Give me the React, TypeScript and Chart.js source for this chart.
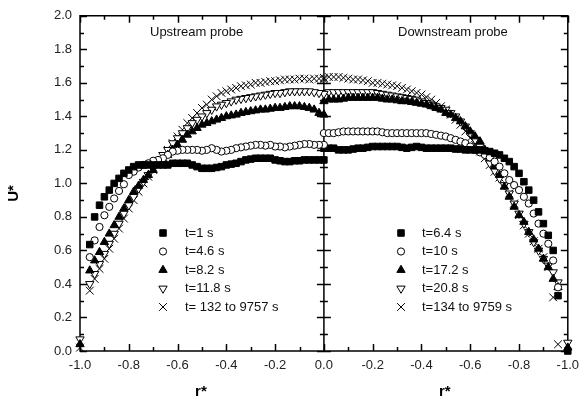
import React, { useEffect, useRef } from 'react';
import { Chart, registerables } from 'chart.js';
import { drawPoint } from 'chart.js/helpers';

Chart.register(...registerables);

// |r*| grid of the measurement points (0 .. 0.96)
const R = [0.00, 0.02, 0.04, 0.06, 0.08, 0.10, 0.12, 0.14, 0.16, 0.18,
  0.20, 0.22, 0.24, 0.26, 0.28, 0.30, 0.32, 0.34, 0.36, 0.38,
  0.40, 0.42, 0.44, 0.46, 0.48, 0.50, 0.52, 0.54, 0.56, 0.58,
  0.60, 0.62, 0.64, 0.66, 0.68, 0.70, 0.72, 0.74, 0.76, 0.78,
  0.80, 0.82, 0.84, 0.86, 0.88, 0.90, 0.92, 0.94, 0.96];
const R_WALL = 1.0;

// Upstream probe (left half)
const UP_LABELS = ['t=1 s', 't=4.6 s', 't=8.2 s', 't=11.8 s', 't= 132 to 9757 s'];
const UP_T1 = [1.14, 1.14, 1.14, 1.14, 1.14, 1.135, 1.135, 1.13, 1.13, 1.135,
  1.14, 1.15, 1.15, 1.15, 1.15, 1.145, 1.14, 1.13, 1.12, 1.115,
  1.11, 1.10, 1.095, 1.09, 1.09, 1.09, 1.10, 1.11, 1.12, 1.12,
  1.12, 1.12, 1.11, 1.11, 1.11, 1.11, 1.11, 1.11, 1.11, 1.10,
  1.08, 1.06, 1.03, 1.00, 0.96, 0.92, 0.87, 0.80, 0.635];
const UP_T2 = [1.23, 1.23, 1.23, 1.235, 1.235, 1.23, 1.225, 1.22, 1.215, 1.22,
  1.22, 1.23, 1.225, 1.23, 1.23, 1.225, 1.22, 1.215, 1.21, 1.20,
  1.195, 1.19, 1.20, 1.21, 1.20, 1.195, 1.20, 1.20, 1.20, 1.20,
  1.195, 1.19, 1.17, 1.15, 1.14, 1.135, 1.12, 1.11, 1.095, 1.07,
  1.05, 0.995, 0.955, 0.91, 0.86, 0.81, 0.74, 0.66, 0.56];
const UP_T3 = [1.41, 1.42, 1.44, 1.45, 1.455, 1.46, 1.46, 1.46, 1.455, 1.45,
  1.45, 1.445, 1.44, 1.44, 1.435, 1.43, 1.425, 1.42, 1.41, 1.405,
  1.40, 1.39, 1.38, 1.37, 1.36, 1.35, 1.33, 1.31, 1.29, 1.26,
  1.23, 1.20, 1.17, 1.14, 1.11, 1.08, 1.05, 1.02, 0.985, 0.95,
  0.90, 0.85, 0.80, 0.75, 0.70, 0.65, 0.59, 0.54, 0.48];
const UP_T4 = [1.535, 1.54, 1.545, 1.55, 1.55, 1.55, 1.55, 1.55, 1.545, 1.54,
  1.54, 1.535, 1.53, 1.525, 1.52, 1.515, 1.51, 1.505, 1.50, 1.49,
  1.48, 1.47, 1.46, 1.44, 1.42, 1.40, 1.38, 1.36, 1.33, 1.30,
  1.27, 1.24, 1.20, 1.17, 1.13, 1.09, 1.05, 1.01, 0.97, 0.92,
  0.87, 0.82, 0.76, 0.70, 0.64, 0.58, 0.52, 0.46, 0.40];
const UP_T5 = [1.62, 1.625, 1.625, 1.62, 1.625, 1.625, 1.62, 1.62, 1.62, 1.615,
  1.61, 1.61, 1.605, 1.60, 1.60, 1.59, 1.585, 1.58, 1.57, 1.56,
  1.55, 1.54, 1.52, 1.50, 1.47, 1.45, 1.42, 1.39, 1.36, 1.32,
  1.28, 1.24, 1.20, 1.16, 1.12, 1.08, 1.04, 1.00, 0.95, 0.90,
  0.85, 0.79, 0.73, 0.67, 0.61, 0.55, 0.49, 0.43, 0.36];
const UP_WALL = [null, null, 0.04, 0.07, 0.02];

// Downstream probe (right half)
const DOWN_LABELS = ['t=6.4 s', 't=10 s', 't=17.2 s', 't=20.8 s', 't=134 to 9759 s'];
const DOWN_T1 = [1.21, 1.21, 1.21, 1.20, 1.20, 1.20, 1.205, 1.21, 1.21, 1.215,
  1.22, 1.22, 1.22, 1.22, 1.22, 1.22, 1.215, 1.21, 1.215, 1.22,
  1.215, 1.21, 1.21, 1.21, 1.21, 1.21, 1.21, 1.205, 1.205, 1.20,
  1.20, 1.20, 1.20, 1.195, 1.19, 1.18, 1.17, 1.15, 1.13, 1.10,
  1.06, 1.01, 0.96, 0.90, 0.83, 0.76, 0.69, 0.60, 0.33];
const DOWN_T2 = [1.30, 1.30, 1.30, 1.305, 1.31, 1.31, 1.31, 1.31, 1.31, 1.31,
  1.31, 1.31, 1.305, 1.30, 1.30, 1.30, 1.30, 1.30, 1.30, 1.30,
  1.30, 1.30, 1.295, 1.29, 1.285, 1.28, 1.27, 1.26, 1.25, 1.24,
  1.22, 1.20, 1.185, 1.17, 1.155, 1.13, 1.10, 1.06, 1.02, 0.99,
  0.96, 0.92, 0.88, 0.82, 0.76, 0.70, 0.64, 0.54, 0.38];
const DOWN_T3 = [1.49, 1.50, 1.50, 1.50, 1.505, 1.51, 1.51, 1.51, 1.51, 1.51,
  1.51, 1.51, 1.505, 1.50, 1.50, 1.495, 1.49, 1.49, 1.485, 1.48,
  1.475, 1.47, 1.46, 1.45, 1.44, 1.42, 1.41, 1.39, 1.37, 1.34,
  1.31, 1.28, 1.25, 1.20, 1.15, 1.10, 1.05, 0.98, 0.92, 0.86,
  0.81, 0.77, 0.71, 0.665, 0.61, 0.55, 0.50, 0.43, 0.38];
const DOWN_T4 = [1.54, 1.545, 1.545, 1.545, 1.545, 1.545, 1.545, 1.545, 1.545, 1.545,
  1.545, 1.54, 1.535, 1.53, 1.525, 1.52, 1.515, 1.51, 1.505, 1.50,
  1.49, 1.48, 1.47, 1.46, 1.45, 1.44, 1.42, 1.40, 1.37, 1.34,
  1.30, 1.26, 1.22, 1.17, 1.12, 1.075, 1.03, 0.99, 0.94, 0.88,
  0.82, 0.76, 0.71, 0.65, 0.60, 0.55, 0.51, 0.47, 0.41];
const DOWN_T5 = [1.63, 1.635, 1.635, 1.635, 1.63, 1.625, 1.62, 1.62, 1.615, 1.61,
  1.60, 1.60, 1.595, 1.59, 1.585, 1.58, 1.57, 1.56, 1.55, 1.54,
  1.53, 1.515, 1.50, 1.48, 1.46, 1.44, 1.41, 1.38, 1.35, 1.31,
  1.27, 1.23, 1.19, 1.15, 1.11, 1.07, 1.035, 0.99, 0.94, 0.88,
  0.81, 0.75, 0.70, 0.655, 0.61, 0.56, 0.50, 0.32, 0.04];
const DOWN_WALL = [0.00, null, 0.02, 0.05, null];

const X_TICKS_STEP = 0.2;
const Y_TICKS_STEP = 0.2;

const FONT = '"Liberation Sans", Arial, Helvetica, sans-serif';

const STYLES: any[] = [
  { pointStyle: 'rect', pointRadius: 4.6, pointBackgroundColor: '#000', pointBorderColor: '#000', pointBorderWidth: 1, pointRotation: 0 },
  { pointStyle: 'circle', pointRadius: 3.6, pointBackgroundColor: '#fff', pointBorderColor: '#000', pointBorderWidth: 1, pointRotation: 0 },
  { pointStyle: 'triangle', pointRadius: 4.8, pointBackgroundColor: '#000', pointBorderColor: '#000', pointBorderWidth: 1, pointRotation: 0 },
  { pointStyle: 'triangle', pointRadius: 4.8, pointBackgroundColor: '#fff', pointBorderColor: '#000', pointBorderWidth: 1, pointRotation: 180 },
  { pointStyle: 'crossRot', pointRadius: 5.5, pointBackgroundColor: '#000', pointBorderColor: '#000', pointBorderWidth: 1, pointRotation: 0 },
];

function makeSet(label: string, U: number[], wall: number | null, side: number, style: any, group: string) {
  const data = R.map((r, i) => ({ x: side * r, y: U[i] }));
  if (wall !== null && wall !== undefined) data.push({ x: side * R_WALL, y: wall });
  return { label, data, group, showLine: false, clip: false, ...style };
}

const framePlugin = {
  id: 'frameTicks',
  beforeDatasetsDraw(chart: any) {
    const { ctx, chartArea } = chart;
    const { left, right, top, bottom } = chartArea;
    const xs = chart.scales.x;
    const ys = chart.scales.y;
    const cx = xs.getPixelForValue(0);
    ctx.save();
    ctx.strokeStyle = '#000';
    ctx.lineWidth = 1.5;
    ctx.lineCap = 'butt';
    ctx.beginPath();
    ctx.rect(left, top, right - left, bottom - top);
    ctx.moveTo(cx, top);
    ctx.lineTo(cx, bottom);
    // x ticks (every 0.1, major every 0.2), inward on top and bottom
    for (let k = -10; k <= 10; k++) {
      const px = Math.round(xs.getPixelForValue(k / 10)) + 0.5;
      const len = k % 2 === 0 ? 7 : 4;
      ctx.moveTo(px, bottom);
      ctx.lineTo(px, bottom - len);
      ctx.moveTo(px, top);
      ctx.lineTo(px, top + len);
    }
    // y ticks
    for (let k = 0; k <= 20; k++) {
      const py = Math.round(ys.getPixelForValue(k / 10)) + 0.5;
      const len = k % 2 === 0 ? 7 : 4;
      ctx.moveTo(left, py);
      ctx.lineTo(left + len, py);
      ctx.moveTo(right, py);
      ctx.lineTo(right - len, py);
      ctx.moveTo(cx - len, py);
      ctx.lineTo(cx + len, py);
    }
    ctx.stroke();
    ctx.restore();
  },
  afterDatasetsDraw(chart: any) {
    const { ctx } = chart;
    const xs = chart.scales.x;
    const ys = chart.scales.y;
    ctx.save();
    ctx.fillStyle = '#111';
    ctx.font = `13px ${FONT}`;
    ctx.textBaseline = 'middle';
    ctx.textAlign = 'left';
    ctx.fillText('Upstream probe', 150, 32);
    ctx.fillText('Downstream probe', 398, 32);

    // legends
    const rows = [233, 251.5, 270, 288.5, 307];
    const groups = [
      { from: 0, mx: 163, tx: 185 },
      { from: 5, mx: 401, tx: 422 },
    ];
    groups.forEach((g) => {
      for (let i = 0; i < 5; i++) {
        const ds = chart.data.datasets[g.from + i];
        const y = rows[i];
        ctx.fillStyle = ds.pointBackgroundColor;
        ctx.strokeStyle = ds.pointBorderColor;
        ctx.lineWidth = ds.pointBorderWidth;
        drawPoint(ctx, {
          pointStyle: ds.pointStyle,
          rotation: ds.pointRotation,
          radius: ds.pointRadius,
          borderWidth: ds.pointBorderWidth,
        } as any, g.mx, y);
        ctx.fillStyle = '#111';
        ctx.font = `13px ${FONT}`;
        ctx.textBaseline = 'middle';
        ctx.textAlign = 'left';
        ctx.fillText(ds.label, g.tx, y);
      }
    });

    // axis titles
    ctx.fillStyle = '#000';
    ctx.font = `bold 15px ${FONT}`;
    ctx.textAlign = 'center';
    ctx.textBaseline = 'middle';
    const titleY = 392;
    ctx.fillText('r*', (xs.getPixelForValue(-1) + xs.getPixelForValue(0)) / 2 - 1, titleY);
    ctx.fillText('r*', (xs.getPixelForValue(1) + xs.getPixelForValue(0)) / 2 - 1, titleY);
    ctx.translate(14, (ys.getPixelForValue(0) + ys.getPixelForValue(2)) / 2 + 10);
    ctx.rotate(-Math.PI / 2);
    ctx.fillText('U*', 0, 0);
    ctx.restore();
  },
};

export default function App() {
  const ref = useRef<HTMLCanvasElement | null>(null);
  useEffect(() => {
    if (!ref.current) return;
    const datasets = [
      makeSet(UP_LABELS[0], UP_T1, UP_WALL[0], -1, STYLES[0], 'up'),
      makeSet(UP_LABELS[1], UP_T2, UP_WALL[1], -1, STYLES[1], 'up'),
      makeSet(UP_LABELS[2], UP_T3, UP_WALL[2], -1, STYLES[2], 'up'),
      makeSet(UP_LABELS[3], UP_T4, UP_WALL[3], -1, STYLES[3], 'up'),
      makeSet(UP_LABELS[4], UP_T5, UP_WALL[4], -1, STYLES[4], 'up'),
      makeSet(DOWN_LABELS[0], DOWN_T1, DOWN_WALL[0], 1, STYLES[0], 'down'),
      makeSet(DOWN_LABELS[1], DOWN_T2, DOWN_WALL[1], 1, STYLES[1], 'down'),
      makeSet(DOWN_LABELS[2], DOWN_T3, DOWN_WALL[2], 1, STYLES[2], 'down'),
      makeSet(DOWN_LABELS[3], DOWN_T4, DOWN_WALL[3], 1, STYLES[3], 'down'),
      makeSet(DOWN_LABELS[4], DOWN_T5, DOWN_WALL[4], 1, STYLES[4], 'down'),
    ];
    const tickFont = { family: FONT, size: 13 };
    const chart = new Chart(ref.current, {
      type: 'scatter',
      data: { datasets } as any,
      options: {
        animation: false,
        responsive: false,
        events: [],
        layout: { padding: { top: 11, right: 16, bottom: 0, left: 0 } },
        plugins: { legend: { display: false }, tooltip: { enabled: false } },
        scales: {
          x: {
            type: 'linear',
            min: -1,
            max: 1,
            afterFit: (s: any) => { s.height = 55; },
            grid: { display: false, drawTicks: false },
            border: { display: false },
            ticks: {
              stepSize: X_TICKS_STEP,
              padding: 7,
              color: '#222',
              font: tickFont,
              maxRotation: 0,
              autoSkip: false,
              callback: (v: any) => {
                const n = Number(v);
                if (Math.abs(n) < 1e-9) return '0.0';
                return (n <= 0 ? n : -n).toFixed(1);
              },
            },
          },
          y: {
            type: 'linear',
            min: 0,
            max: 2,
            afterFit: (s: any) => { s.width = 80; },
            grid: { display: false, drawTicks: false },
            border: { display: false },
            ticks: {
              stepSize: Y_TICKS_STEP,
              padding: 8,
              color: '#222',
              font: tickFont,
              callback: (v: any) => Number(v).toFixed(1),
            },
          },
        },
      } as any,
      plugins: [framePlugin],
    });
    return () => chart.destroy();
  }, []);
  return (
    <div style={{ position: 'absolute', left: 0, top: 0, width: 586, height: 406, background: '#fff' }}>
      <canvas ref={ref} width={586} height={406} style={{ display: 'block' }} />
    </div>
  );
}
